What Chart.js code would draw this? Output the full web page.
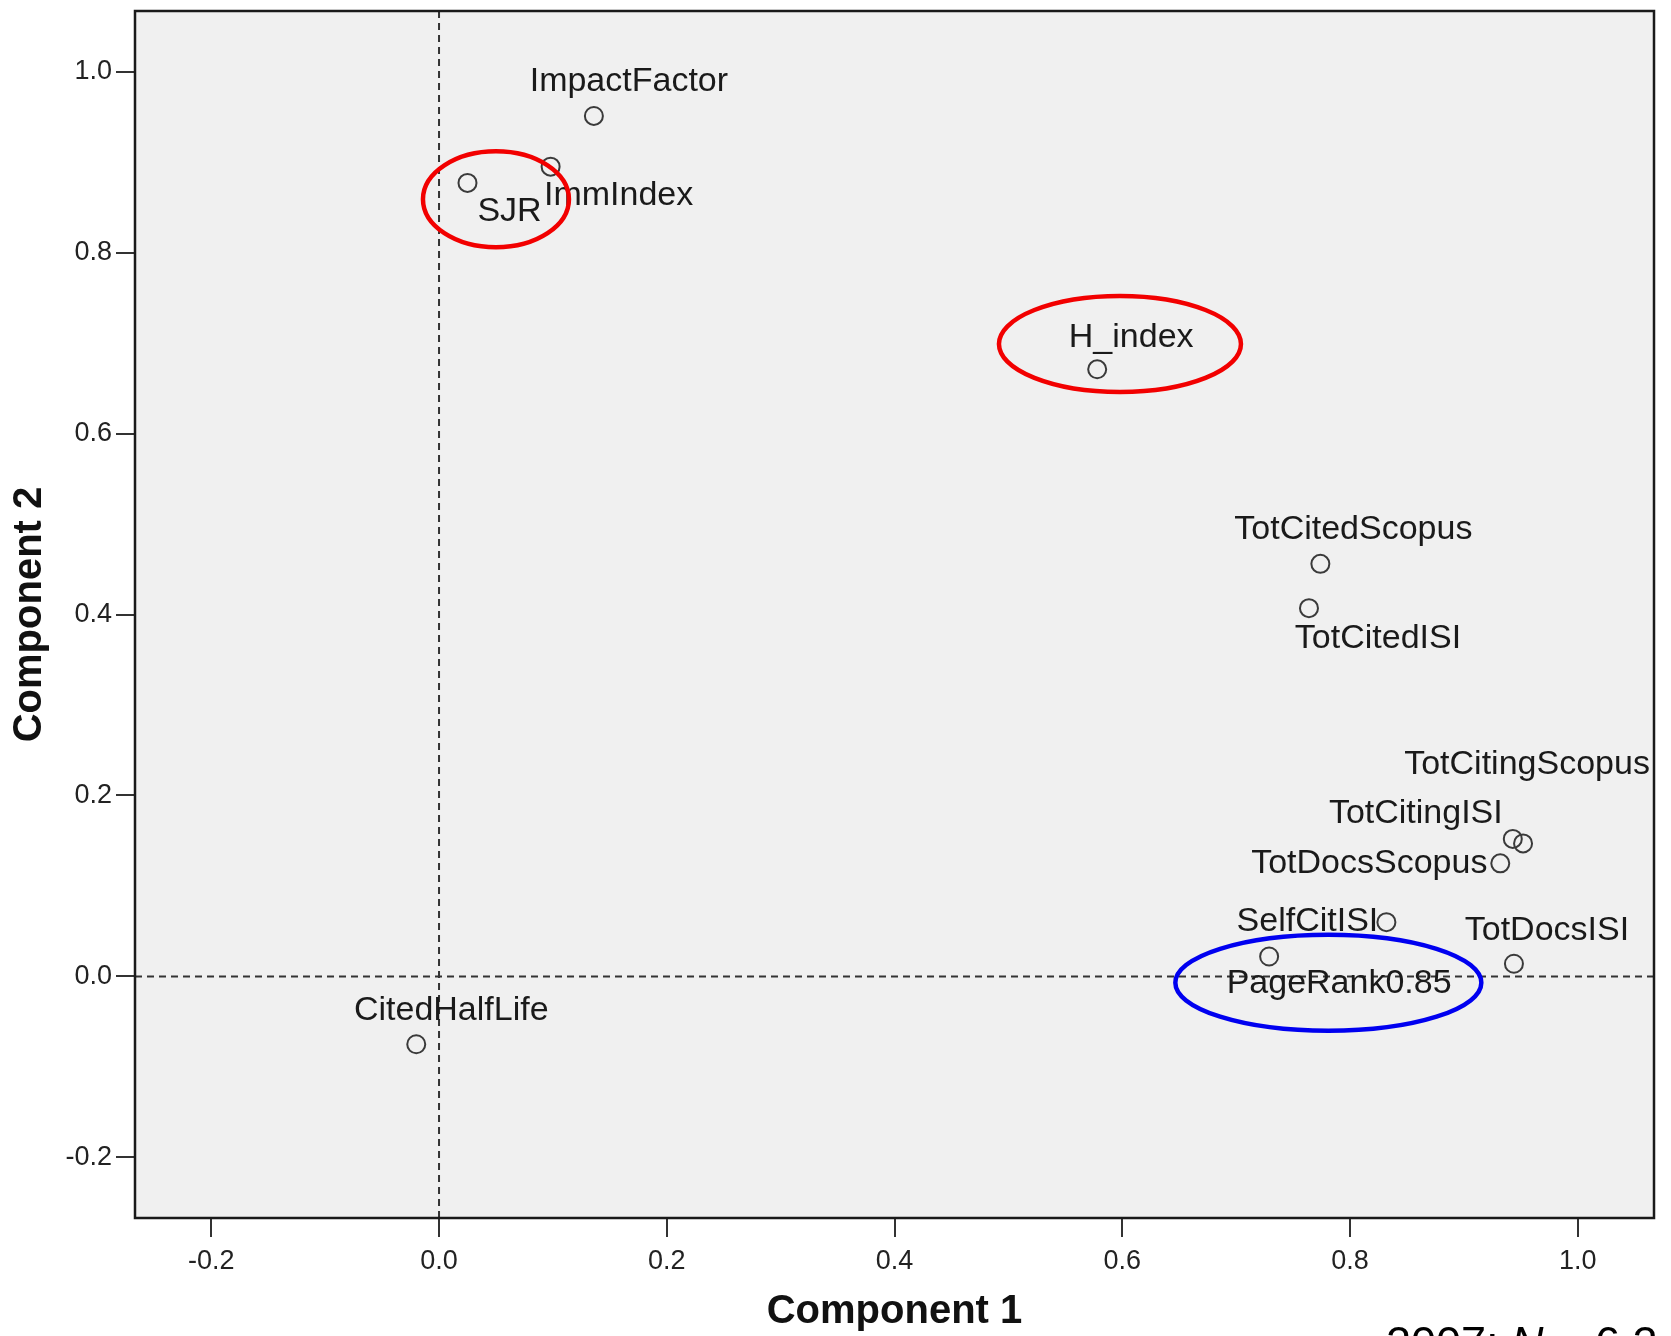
<!DOCTYPE html>
<html>
<head>
<meta charset="utf-8">
<script src="https://cdn.jsdelivr.net/npm/chart.js@4"></script>
<style>
  body { margin: 0; background: #fff; }
  #wrap { width: 1671px; height: 1336px; }
</style>
</head>
<body>
<div id="wrap"><canvas id="myChart"></canvas></div>
<script>
// loadings of the two components
const variables = ['ImpactFactor', 'ImmIndex', 'SJR', 'H_index', 'TotCitedScopus', 'TotCitedISI',
  'TotCitingScopus', 'TotCitingISI', 'TotDocsScopus', 'SelfCitISI', 'PageRank0.85', 'TotDocsISI', 'CitedHalfLife'];
const comp1 = [0.136, 0.098, 0.025, 0.578, 0.774, 0.764, 0.952, 0.943, 0.932, 0.832, 0.729, 0.944, -0.020];
const comp2 = [0.951, 0.895, 0.877, 0.671, 0.456, 0.407, 0.147, 0.152, 0.125, 0.060, 0.022, 0.014, -0.075];
const tickValues = [-0.2, 0.0, 0.2, 0.4, 0.6, 0.8, 1.0];

// where each label sits relative to its point (px)
const labelOffsets = [[35, -34], [68, 29], [42, 29], [34, -32], [33, -34], [69, 30],
  [4, -79], [-97, -25], [-131, 0], [-79, -1], [70, 27], [33, -33], [35, -34]];

// hand drawn circles: centre in data units, radii in px
const highlights = [
  { x: 0.050, y: 0.859, rx: 73, ry: 48, color: '#f20000' },
  { x: 0.598, y: 0.699, rx: 121, ry: 48, color: '#f20000' },
  { x: 0.781, y: -0.007, rx: 153, ry: 48, color: '#0000f0' }
];

const FONT = 'Liberation Sans, Arial, sans-serif';

const plotDeco = {
  id: 'plotDeco',
  beforeDatasetsDraw(chart) {
    const { ctx, chartArea: a, scales } = chart;
    ctx.save();
    // dashed zero lines
    ctx.strokeStyle = '#333';
    ctx.lineWidth = 2;
    ctx.setLineDash([7, 5]);
    const x0 = scales.x.getPixelForValue(0);
    const y0 = scales.y.getPixelForValue(0);
    ctx.beginPath();
    ctx.moveTo(x0, a.top); ctx.lineTo(x0, a.bottom);
    ctx.moveTo(a.left, y0); ctx.lineTo(a.right, y0);
    ctx.stroke();
    ctx.restore();
  },
  beforeDraw(chart) {
    const { ctx, chartArea: a } = chart;
    ctx.save();
    ctx.fillStyle = '#f0f0f0';
    ctx.fillRect(a.left, a.top, a.right - a.left, a.bottom - a.top);
    ctx.restore();
  },
  afterDraw(chart) {
    const { ctx, chartArea: a, scales } = chart;
    const meta = chart.getDatasetMeta(0);
    ctx.save();
    ctx.beginPath();
    ctx.rect(a.left, a.top, a.right - a.left, a.bottom - a.top);
    ctx.clip();
    // point labels
    ctx.font = '34px ' + FONT;
    ctx.fillStyle = '#1a1a1a';
    ctx.textAlign = 'center';
    ctx.textBaseline = 'middle';
    meta.data.forEach((pt, i) => {
      const o = labelOffsets[i];
      ctx.fillText(variables[i], pt.x + o[0], pt.y + o[1]);
    });
    // ellipses
    ctx.lineWidth = 4.5;
    highlights.forEach(h => {
      ctx.strokeStyle = h.color;
      ctx.beginPath();
      ctx.ellipse(scales.x.getPixelForValue(h.x), scales.y.getPixelForValue(h.y), h.rx, h.ry, 0, 0, Math.PI * 2);
      ctx.stroke();
    });
    ctx.restore();
    // frame
    ctx.save();
    ctx.strokeStyle = '#1a1a1a';
    ctx.lineWidth = 2.5;
    ctx.strokeRect(a.left, a.top, a.right - a.left, a.bottom - a.top);
    // caption cut by the bottom edge
    ctx.fillStyle = '#000';
    ctx.textBaseline = 'alphabetic';
    ctx.textAlign = 'left';
    ctx.font = '45px ' + FONT;
    let x = 1386;
    ctx.fillText('2007; ', x, 1358);
    x += ctx.measureText('2007; ').width;
    ctx.font = 'italic 45px ' + FONT;
    ctx.fillText('N', x, 1358);
    x += ctx.measureText('N').width;
    ctx.font = '45px ' + FONT;
    ctx.fillText(' = 6.2', x, 1358);
    ctx.restore();
  }
};

const axisCommon = {
  type: 'linear',
  min: -0.267,
  max: 1.067,
  afterBuildTicks: axis => { axis.ticks = tickValues.map(v => ({ value: v })); },
  grid: { drawOnChartArea: false, drawTicks: true, tickLength: 19, color: '#333', lineWidth: 2 },
  border: { display: false },
  ticks: {
    color: '#222',
    font: { family: FONT, size: 27 },
    callback: v => v.toFixed(1)
  }
};

const ctx = document.getElementById('myChart');
new Chart(ctx, {
  type: 'scatter',
  data: {
    datasets: [{
      label: 'loadings',
      data: comp1.map((v, i) => ({ x: v, y: comp2[i] })),
      pointRadius: 9,
      pointBorderWidth: 2,
      borderColor: '#3a3a3a',
      backgroundColor: 'rgba(0,0,0,0)',
      pointHoverRadius: 9
    }]
  },
  options: {
    responsive: true,
    maintainAspectRatio: false,
    animation: false,
    events: [],
    layout: { padding: { top: 10, right: 17, left: 0, bottom: 0 } },
    plugins: { legend: { display: false }, tooltip: { enabled: false } },
    scales: {
      x: {
        ...axisCommon,
        position: 'bottom',
        ticks: { ...axisCommon.ticks, padding: 8 },
        title: { display: true, text: 'Component 1', color: '#111',
          font: { family: FONT, size: 40, weight: 'bold' }, padding: { top: 3, bottom: 0 } },
        afterFit: s => { s.height = 118; s.paddingLeft = 0; s.paddingRight = 0; }
      },
      y: {
        ...axisCommon,
        position: 'left',
        ticks: { ...axisCommon.ticks, padding: 4 },
        title: { display: true, text: 'Component 2', color: '#111',
          font: { family: FONT, size: 40, weight: 'bold' }, padding: { top: 6, bottom: 0 } },
        afterFit: s => { s.width = 135; s.paddingTop = 0; s.paddingBottom = 0; }
      }
    }
  },
  plugins: [plotDeco]
});
</script>
</body>
</html>
